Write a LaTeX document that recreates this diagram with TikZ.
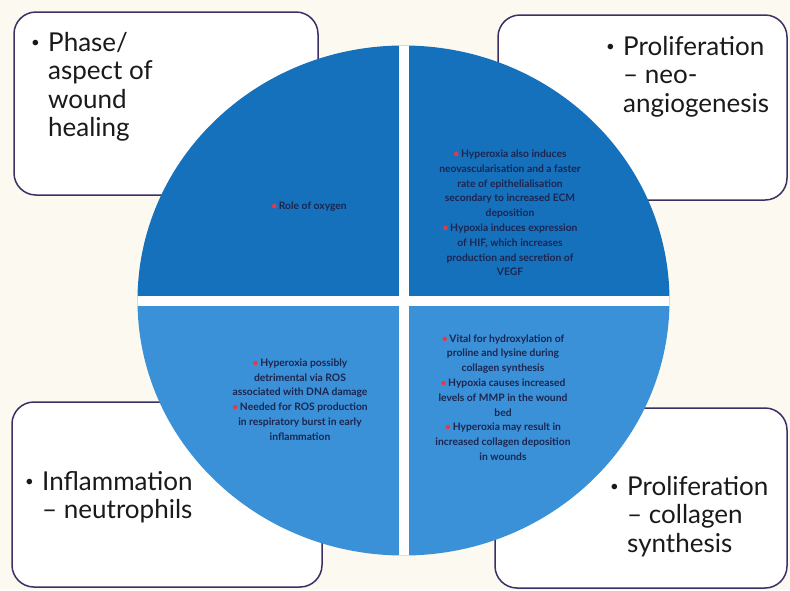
\documentclass[tikz,border=0pt]{standalone}
\usepackage{fontspec}
\setmainfont{Lato}
\definecolor{bgc}{HTML}{FCF9F0}
\definecolor{topblue}{HTML}{1671BC}
\definecolor{botblue}{HTML}{3A91D7}
\definecolor{navy}{HTML}{1C2550}
\definecolor{bred}{HTML}{E33B45}
\definecolor{bordc}{HTML}{3C2F63}
\definecolor{ink}{HTML}{1A1A1A}
\newcommand{\rb}{{\color{bred}\textbullet}\,}
\newcommand{\bigb}{\makebox[19pt][l]{\hspace{2pt}\raisebox{3.5pt}{\fontsize{15}{15}\selectfont\textbullet}}}
\begin{document}
\begin{tikzpicture}[x=1pt,y=-1pt,
  cornerbox/.style={draw=bordc,line width=1.5pt,fill=white,rounded corners=22pt,rectangle,inner sep=0pt},
  bigtext/.style={anchor=base west,inner sep=0pt,text=ink,font=\fontsize{26}{28.5}\selectfont},
  smalltext/.style={align=center,inner sep=0pt,text=navy,font=\fontsize{10.3}{14.8}\selectfont\bfseries}]
\useasboundingbox[fill=bgc] (0,0) rectangle (790,590);
% corner boxes
\node[cornerbox,minimum width=304pt,minimum height=183pt] (tlbox) at (166,103.5) {};
\node[cornerbox,minimum width=289pt,minimum height=185pt] (trbox) at (642.5,107.5) {};
\node[cornerbox,minimum width=310pt,minimum height=185pt] (blbox) at (167,494.5) {};
\node[cornerbox,minimum width=292pt,minimum height=180pt] (brbox) at (641,498) {};
% circle
\begin{scope}
\clip (403.5,300.5) ellipse [x radius=266pt, y radius=255pt];
\fill[topblue] (130,20) rectangle (680,300.5);
\fill[botblue] (130,300.5) rectangle (680,580);
\fill[white!92!bgc] (399,20) rectangle (409,580);
\fill[white!92!bgc] (130,295.5) rectangle (680,305.5);
\end{scope}
% big texts
\node[bigtext] (tltext) at (29,51) {\begin{tabular}[t]{@{}l@{}l@{}}\bigb & Phase/\\ & aspect of\\ & wound\\ & healing\end{tabular}};
\node[bigtext] (trtext) at (604,55) {\begin{tabular}[t]{@{}l@{}l@{}}\bigb & Proliferation\\ & -- neo-\\ & angiogenesis\end{tabular}};
\node[bigtext] (bltext) at (23,490) {\begin{tabular}[t]{@{}l@{}l@{}}\bigb & Inflammation\\ & -- neutrophils\end{tabular}};
\node[bigtext] (brtext) at (608,495) {\begin{tabular}[t]{@{}l@{}l@{}}\bigb & Proliferation\\ & -- collagen\\ & synthesis\end{tabular}};
% quadrant texts
\node[smalltext] (q1) at (309,207) {\rb Role of oxygen};
\node[smalltext] (q2) at (510,213) {\rb Hyperoxia also induces\\ neovascularisation and a faster\\ rate of epithelialisation\\ secondary to increased ECM\\ deposition\\ \rb Hypoxia induces expression\\ of HIF, which increases\\ production and secretion of\\ VEGF};
\node[smalltext] (q3) at (300,399.5) {\rb Hyperoxia possibly\\ detrimental via ROS\\ associated with DNA damage\\ \rb Needed for ROS production\\ in respiratory burst in early\\ inflammation};
\node[smalltext] (q4) at (503,397.5) {\rb Vital for hydroxylation of\\ proline and lysine during\\ collagen synthesis\\ \rb Hypoxia causes increased\\ levels of MMP in the wound\\ bed\\ \rb Hyperoxia may result in\\ increased collagen deposition\\ in wounds};
\end{tikzpicture}
\end{document}
